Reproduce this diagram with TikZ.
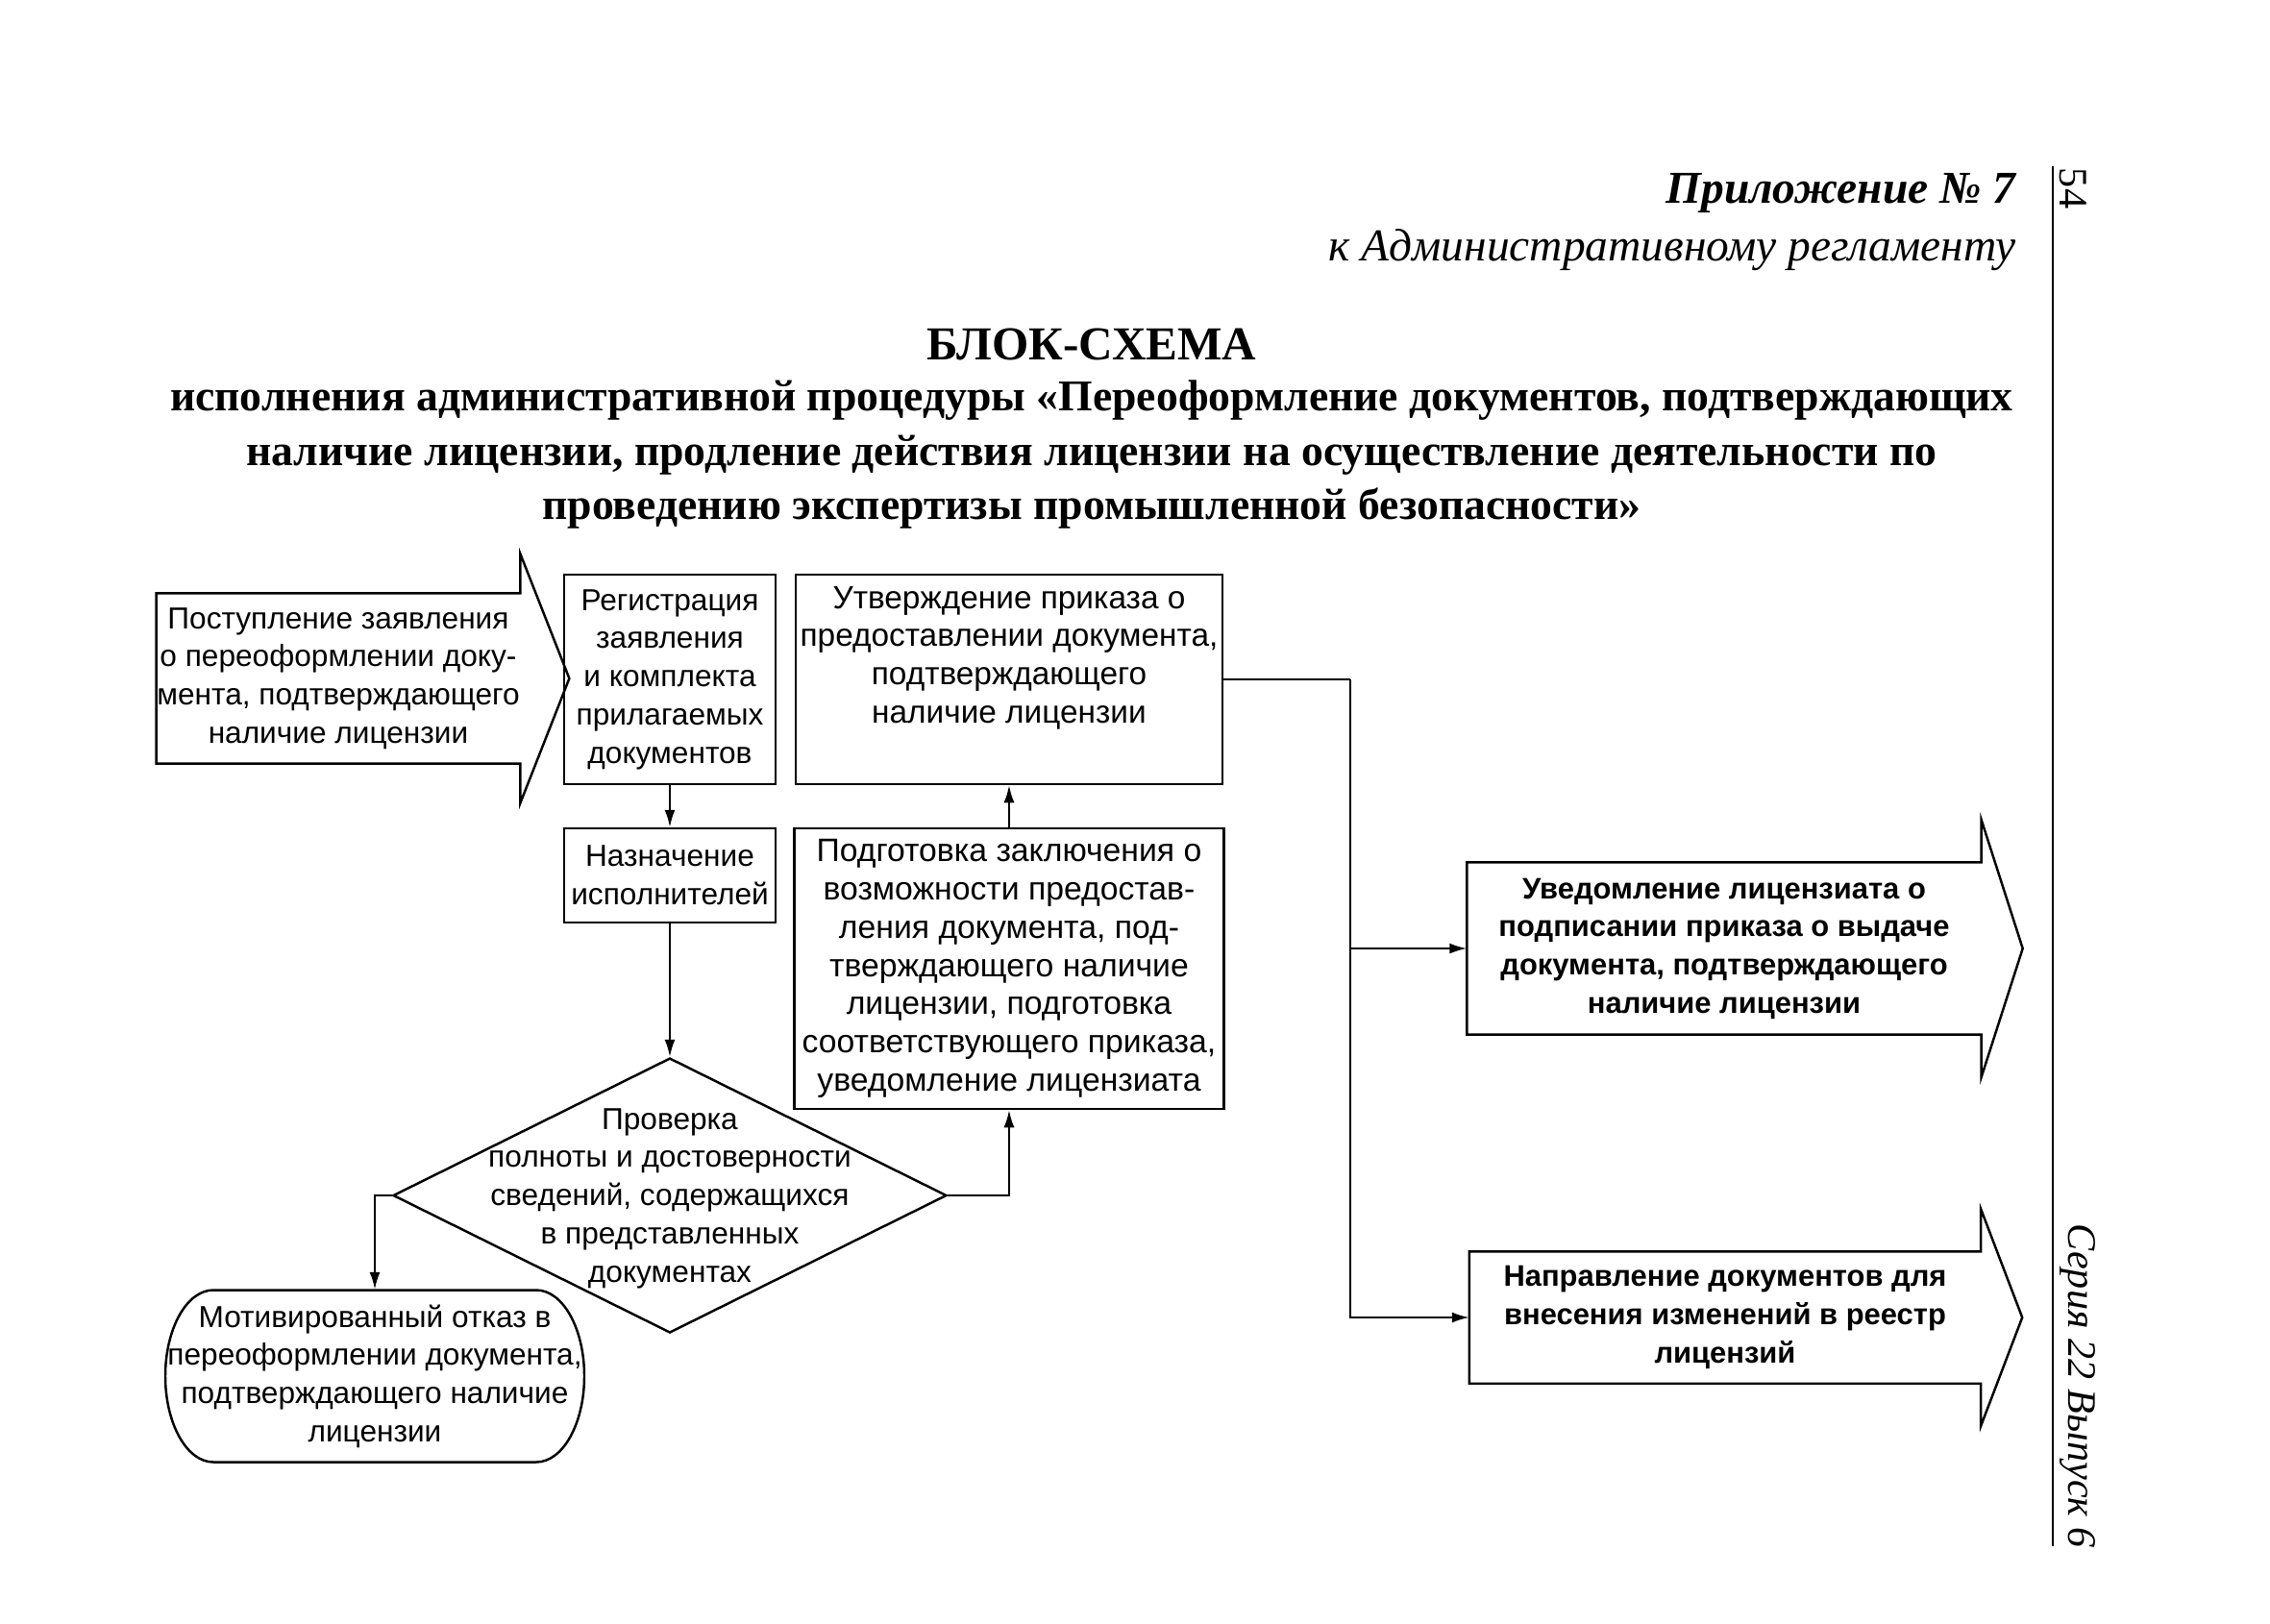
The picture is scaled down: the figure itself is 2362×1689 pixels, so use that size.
\documentclass[tikz,border=0pt]{standalone}
\usepackage{fontspec}
\setmainfont{Liberation Serif}
\setsansfont{Liberation Sans}
\usetikzlibrary{arrows.meta,positioning,shapes,calc}

\begin{document}
\begin{tikzpicture}[x=0.1mm,y=-0.1mm,
  blk/.style={rectangle,draw,line width=0.7pt,align=center,inner sep=0pt,font=\sffamily\fontsize{9}{11.3}\selectfont},
  txt/.style={align=center,inner sep=0pt,font=\sffamily\fontsize{9}{11.3}\selectfont},
  ptr/.style={-{Latex[length=1.8mm,width=1.1mm]},line width=0.6pt},
  ln/.style={line width=0.6pt}]
  \useasboundingbox (0,0) rectangle (2362,1689);
  % page header and margin
  \node[anchor=base east,font=\bfseries\itshape\fontsize{13.5}{16}\selectfont] (pril) at (2110,211) {Приложение № 7};
  \node[anchor=base east,font=\itshape\fontsize{13.5}{16}\selectfont] (reglam) at (2110,271) {к Административному регламенту};
  \draw[line width=0.8pt] (2136,173) -- (2136,1609);
  \node[rotate=-90,font=\fontsize{12}{14}\selectfont] (stranica) at (2157,196) {54};
  \node[rotate=-90,font=\itshape\fontsize{12}{14}\selectfont] (seria) at (2162,1442) {Серия 22 Выпуск 6};
  % title
  \node[font=\bfseries\fontsize{14}{17}\selectfont] (zag) at (1136,358) {БЛОК-СХЕМА};
  \node[align=center,font=\bfseries\fontsize{13}{16.2}\selectfont] (podzag) at (1136,473)
    {исполнения административной процедуры «Переоформление документов, подтверждающих\\
     наличие лицензии, продление действия лицензии на осуществление деятельности по\\
     проведению экспертизы промышленной безопасности»};
  % blocks
  \node[txt,minimum width=36.6mm,minimum height=17.6mm] (vhod) at (352,706)
    {Поступление заявления\\о переоформлении доку-\\мента, подтверждающего\\наличие лицензии};
  \node[blk,minimum width=22mm,minimum height=21.8mm] (reg) at (697,707)
    {Регистрация\\заявления\\и комплекта\\прилагаемых\\документов};
  \node[blk,minimum width=22mm,minimum height=9.8mm] (nazn) at (697,911) {Назначение\\исполнителей};
  \node[blk,font=\sffamily\fontsize{9.5}{11.3}\selectfont,minimum width=44.4mm,minimum height=21.8mm] (utv) at (1050,707)
    {Утверждение приказа о\\предоставлении документа,\\подтверждающего\\наличие лицензии\\\strut};
  \node[blk,font=\sffamily\fontsize{9.6}{11.3}\selectfont,minimum width=44.7mm,minimum height=29.2mm] (podg) at (1050,1008)
    {Подготовка заключения о\\возможности предостав-\\ления документа, под-\\тверждающего наличие\\лицензии, подготовка\\соответствующего приказа,\\уведомление лицензиата};
  \node[diamond,draw,line width=0.7pt,minimum width=57.6mm,minimum height=28.6mm,inner sep=0pt] (prov) at (697,1244) {};
  \node[txt] (provtxt) at (697,1247)
    {Проверка\\полноты и достоверности\\сведений, содержащихся\\в представленных\\документах};
  \node[txt,minimum height=17.9mm] (otkaz) at (390,1432)
    {Мотивированный отказ в\\переоформлении документа,\\подтверждающего наличие\\лицензии};
  \draw[line width=0.7pt] ($(otkaz.center)+(-168,-89.5)$) arc[start angle=90,end angle=270,x radius=5mm,y radius=8.95mm]
    -- ($(otkaz.center)+(168,89.5)$) arc[start angle=-90,end angle=90,x radius=5mm,y radius=8.95mm] -- cycle;
  \node[txt,font=\sffamily\bfseries\fontsize{8.8}{11.3}\selectfont,minimum width=53.4mm,minimum height=17.8mm] (uved) at (1794,987)
    {Уведомление лицензиата о\\подписании приказа о выдаче\\документа, подтверждающего\\наличие лицензии};
  \node[txt,font=\sffamily\bfseries\fontsize{8.8}{11.3}\selectfont,minimum width=53.1mm,minimum height=13.6mm] (napr) at (1795,1371)
    {Направление документов для\\внесения изменений в реестр\\лицензий};
  % big arrow outlines
  \foreach \n/\e/\l in {vhod/41/51,uved/44/43,napr/44/43}
    \draw[line width=0.7pt] (\n.south west) -- (\n.north west) -- (\n.north east) -- ++(0,-\e)
      -- ($(\n.east)+(\l,0)$) -- ($(\n.south east)+(0,\e)$) -- (\n.south east) -- cycle;
  % connectors
  \draw[ptr] (reg) -- (nazn);
  \draw[ptr] (nazn) -- (prov.north);
  \draw[ptr] (prov.west) -| (otkaz.north);
  \draw[ptr] (prov.east) -| (podg.south);
  \draw[ptr] (podg) -- (utv);
  \coordinate (razv) at (1405,707);
  \draw[ln] (utv.east) -- (razv);
  \draw[ptr] (razv) |- (uved.west);
  \draw[ptr] (razv) |- (napr.west);
\end{tikzpicture}
\end{document}
